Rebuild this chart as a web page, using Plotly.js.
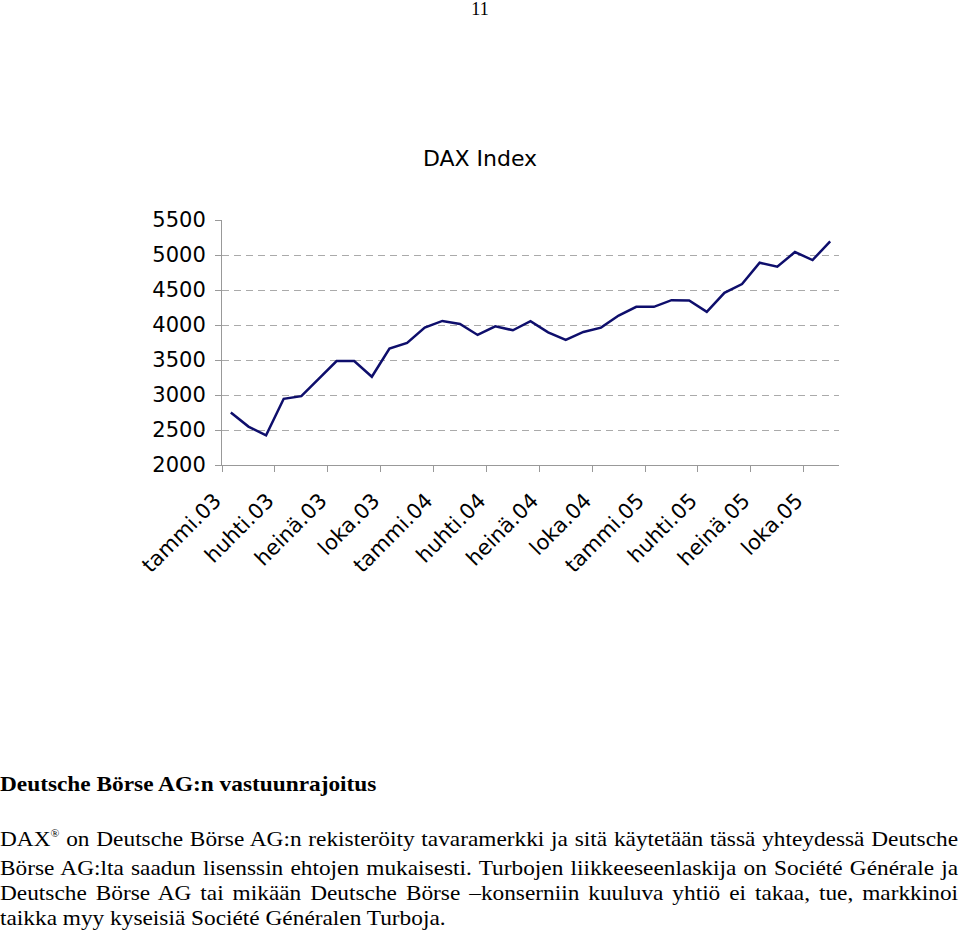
<!DOCTYPE html>
<html><head><meta charset="utf-8">
<script src="https://cdn.plot.ly/plotly-3.0.1.min.js"></script>
<style>
html,body{margin:0;padding:0;background:#fff;}
#wrap{position:relative;width:960px;height:930px;overflow:hidden;background:#fff;}
#chart{position:absolute;left:0;top:0;width:960px;height:930px;}
.txt{position:absolute;left:0;font-family:"Liberation Serif","Times New Roman",serif;color:#000;}
.pg{top:-1px;width:960px;text-align:center;font-size:18px;line-height:20px;}
.hd{top:771px;font-weight:bold;font-size:22px;line-height:25px;transform:scaleX(1.06);transform-origin:0 0;white-space:nowrap;}
.para{top:826px;width:903.8px;font-size:22px;line-height:25px;transform:scaleX(1.06);transform-origin:0 0;}
.para div{text-align:justify;text-align-last:justify;white-space:nowrap;}
.para div.last{text-align:left;text-align-last:left;}
sup{font-size:11px;vertical-align:baseline;position:relative;top:-0.85em;}
</style>
</head><body>
<div id="wrap">
<div id="chart"></div>
<div class="txt pg">11</div>
<div class="txt hd">Deutsche Börse AG:n vastuunrajoitus</div>
<div class="txt para">
<div>DAX<sup>®</sup> on Deutsche Börse AG:n rekisteröity tavaramerkki ja sitä käytetään tässä yhteydessä Deutsche</div>
<div>Börse AG:lta saadun lisenssin ehtojen mukaisesti. Turbojen liikkeeseenlaskija on Société Générale ja</div>
<div>Deutsche Börse AG tai mikään Deutsche Börse –konserniin kuuluva yhtiö ei takaa, tue, markkinoi</div>
<div class="last">taikka myy kyseisiä Société Généralen Turboja.</div>
</div>
</div>
<script>
// Monthly categories (Jan 2003 – Nov 2005)
const months = [
  'tammi.03','helmi.03','maalis.03','huhti.03','touko.03','kesä.03','heinä.03','elo.03','syys.03','loka.03','marras.03','joulu.03',
  'tammi.04','helmi.04','maalis.04','huhti.04','touko.04','kesä.04','heinä.04','elo.04','syys.04','loka.04','marras.04','joulu.04',
  'tammi.05','helmi.05','maalis.05','huhti.05','touko.05','kesä.05','heinä.05','elo.05','syys.05','loka.05','marras.05'
];
// DAX index monthly values
const daxValues = [
  2750, 2549, 2425, 2946, 2984, 3232, 3485, 3485, 3261, 3662, 3743, 3963,
  4058, 4015, 3858, 3982, 3925, 4054, 3896, 3786, 3901, 3963, 4135, 4259,
  4259, 4355, 4350, 4187, 4460, 4584, 4890, 4832, 5042, 4928, 5195
];
// quarterly tick labels
const tickLabels = ['tammi.03','huhti.03','heinä.03','loka.03','tammi.04','huhti.04','heinä.04','loka.04','tammi.05','huhti.05','heinä.05','loka.05'];
const yTicks = [2000, 2500, 3000, 3500, 4000, 4500, 5000, 5500];

const xIdx = months.map((m, i) => i);
const tickPos = tickLabels.map(l => months.indexOf(l) - 0.5);

const trace = {
  x: xIdx, y: daxValues, text: months, type: 'scatter', mode: 'lines',
  line: {color: '#0e0e6c', width: 2.5}, hoverinfo: 'text+y'
};
const axisFont = {family: 'DejaVu Sans, Verdana, sans-serif', size: 21, color: '#000'};
const layout = {
  width: 960, height: 930,
  margin: {l: 222, r: 121, t: 220, b: 465, pad: 0},
  paper_bgcolor: 'rgba(0,0,0,0)', plot_bgcolor: 'rgba(0,0,0,0)',
  showlegend: false,
  title: {text: 'DAX Index', font: {family: 'DejaVu Sans, Verdana, sans-serif', size: 22, color: '#000'},
          x: 0.5, xref: 'container', xanchor: 'center', y: 1 - 158/930, yref: 'container', yanchor: 'middle'},
  xaxis: {range: [-0.5, months.length - 0.5], tickmode: 'array', tickvals: tickPos, ticktext: tickLabels,
          tickangle: -45, ticks: 'outside', ticklen: 6, tickcolor: '#999', tickwidth: 1,
          showline: true, linecolor: '#999', linewidth: 1, showgrid: false, zeroline: false,
          ticklabelstandoff: 8, ticklabelshift: -7, tickfont: axisFont, fixedrange: true},
  yaxis: {range: [2000, 5500], tickmode: 'array', tickvals: yTicks, ticktext: yTicks.map(String),
          ticks: 'outside', ticklen: 6, tickcolor: '#999', tickwidth: 1,
          showline: true, linecolor: '#999', linewidth: 1, showgrid: true, gridcolor: '#aaa', gridwidth: 1,
          griddash: '7px,5px', zeroline: false, ticklabelstandoff: 5, tickfont: axisFont, fixedrange: true}
};
Plotly.newPlot('chart', [trace], layout, {displayModeBar: false, staticPlot: true});
</script>
</body></html>
